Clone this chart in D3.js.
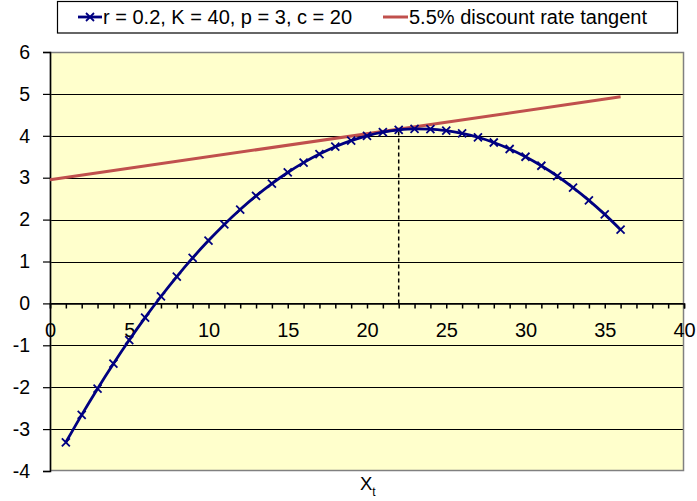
<!DOCTYPE html>
<html><head><meta charset="utf-8">
<script src="https://cdn.jsdelivr.net/npm/d3@7"></script>
<style>body{margin:0;background:#fff}svg{display:block}text{font-family:"Liberation Sans",Arial,sans-serif}</style>
</head><body><svg id="c" width="697" height="501"></svg>
<script>
const stockX = [1,2,3,4,5,6,7,8,9,10,11,12,13,14,15,16,17,18,19,20,21,22,23,24,25,26,27,28,29,30,31,32,33,34,35,36];
const profitY = [-3.315,-2.66,-2.035,-1.44,-0.875,-0.34,0.165,0.64,1.085,1.5,1.885,2.24,2.565,2.86,3.125,3.36,3.565,3.74,3.885,4.0,4.085,4.14,4.165,4.16,4.125,4.06,3.965,3.84,3.685,3.5,3.285,3.04,2.765,2.46,2.125,1.76];
const tangentX = [0,36];
const tangentY = [2.95,4.93];
const optimumX = 22;
const optimumY = 4.14;
const xTicks = [0,5,10,15,20,25,30,35,40];
const yTicks = [-4,-3,-2,-1,0,1,2,3,4,5,6];
const seriesNames = ["r = 0.2, K = 40, p = 3, c = 20","5.5% discount rate tangent"];
const xTitle = "X";
const xTitleSub = "t";

const svg = d3.select("#c");
const L=50,R=684,T=52,B=471;
const FONT="Liberation Sans, Arial, sans-serif";
const x = d3.scaleLinear().domain([0,40]).range([L,R]);
const y = d3.scaleLinear().domain([-4,6]).range([B,T]);

svg.append("rect").attr("x",L).attr("y",T).attr("width",R-L).attr("height",B-T).attr("fill","#FFFFCC");
// gridlines
svg.append("g").selectAll("line").data(yTicks.filter(d=>d>-4&&d<6)).join("line")
  .attr("x1",L).attr("x2",R).attr("y1",d=>Math.round(y(d))+0.5).attr("y2",d=>Math.round(y(d))+0.5)
  .attr("stroke","#000").attr("stroke-width",1);
// plot border (gray)
svg.append("rect").attr("x",L+0.5).attr("y",T+0.5).attr("width",R-L-1).attr("height",B-T-1)
  .attr("fill","none").attr("stroke","#808080").attr("stroke-width",1.5);
// y axis
const yAxis = d3.axisLeft(y).tickValues(yTicks).tickSize(7).tickPadding(13).tickFormat(d=>String(d));
const gy = svg.append("g").attr("transform",`translate(${L},0)`).call(yAxis);
gy.select(".domain").attr("stroke","#000").attr("stroke-width",1.5);
gy.selectAll("line").attr("stroke","#000").attr("stroke-width",1.2);
gy.selectAll("text").attr("font-size",19.5).attr("fill","#000").attr("font-family",FONT);
// x axis at y=0
const y0 = Math.round(y(0))+0.5;
const xAxis = d3.axisBottom(x).tickValues(d3.range(0,41,1)).tickSize(5).tickFormat(d=>xTicks.includes(d)?String(d):"").tickPadding(14);
const gx = svg.append("g").attr("transform",`translate(0,${y0})`).call(xAxis);
gx.select(".domain").attr("stroke","#000").attr("stroke-width",1.5);
gx.selectAll("line").attr("stroke","#000").attr("stroke-width",1.5);
gx.selectAll("text").attr("font-size",20).attr("fill","#000").attr("font-family",FONT);

// dashed optimum line
svg.append("line").attr("x1",x(optimumX)).attr("x2",x(optimumX)).attr("y1",y(0)).attr("y2",y(optimumY))
  .attr("stroke","#000").attr("stroke-width",1.5).attr("stroke-dasharray","4,3");

// tangent
const tangent = tangentX.map((d,i)=>[d,tangentY[i]]);
svg.append("path").datum(tangent).attr("d",d3.line().x(d=>x(d[0])).y(d=>y(d[1])))
  .attr("fill","none").attr("stroke","#C0504D").attr("stroke-width",3);

// curve
const pts = stockX.map((d,i)=>[d,profitY[i]]);
svg.append("path").datum(pts).attr("d",d3.line().x(d=>x(d[0])).y(d=>y(d[1])).curve(d3.curveMonotoneX))
  .attr("fill","none").attr("stroke","#000080").attr("stroke-width",2.8);
const m=4;
svg.append("g").selectAll("path").data(pts).join("path")
  .attr("d",d=>{const cx=x(d[0]),cy=y(d[1]);return `M${cx-m},${cy-m}L${cx+m},${cy+m}M${cx-m},${cy+m}L${cx+m},${cy-m}`;})
  .attr("stroke","#000080").attr("stroke-width",1.8);

// x title
const xt = svg.append("text").attr("x",360).attr("y",490).attr("font-size",18.5).attr("fill","#000");
xt.append("tspan").text(xTitle);
xt.append("tspan").attr("font-size",12).attr("dy",6).text(xTitleSub);

// legend
svg.append("rect").attr("x",57.5).attr("y",1.5).attr("width",620).attr("height",31.5).attr("fill","#fff").attr("stroke","#000").attr("stroke-width",1.2);
const lg = svg.append("g");
lg.append("line").attr("x1",78).attr("x2",102).attr("y1",17).attr("y2",17).attr("stroke","#000080").attr("stroke-width",2.8);
lg.append("path").attr("d",`M${90-4},${17-4}L${90+4},${17+4}M${90-4},${17+4}L${90+4},${17-4}`).attr("stroke","#000080").attr("stroke-width",1.8);
lg.append("text").attr("x",103).attr("y",24).attr("font-size",20).attr("fill","#000").text(seriesNames[0]);
lg.append("line").attr("x1",383).attr("x2",408).attr("y1",17).attr("y2",17).attr("stroke","#C0504D").attr("stroke-width",3);
lg.append("text").attr("x",409).attr("y",24).attr("font-size",20).attr("fill","#000").text(seriesNames[1]);
</script></body></html>
